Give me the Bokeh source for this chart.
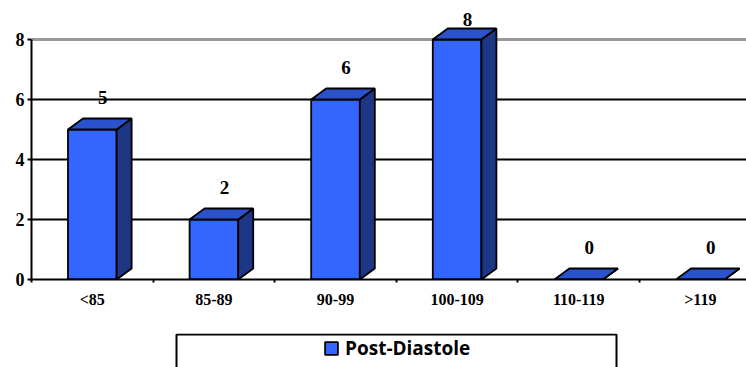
from bokeh.plotting import figure
from bokeh.models import FixedTicker, Span, Legend, LegendItem, Range1d
from bokeh.layouts import column
from bokeh.embed import file_html
from bokeh.resources import INLINE
from bokeh.core.properties import value

# ---- data ----
categories = ["<85", "85-89", "90-99", "100-109", "110-119", ">119"]
counts = [5, 2, 6, 8, 0, 0]
y_ticks = [0, 2, 4, 6, 8]
series_name = "Post-Diastole"

# ---- style ----
FRONT = "#3366FF"
TOP = "#2A52CC"
SIDE = "#1E3785"
W = 0.40            # front face width (category units)
DX = 15 / 121.6     # 3D depth, x (category units)
DY = 11 / 30        # 3D depth, y (value units)
PX_PER_UNIT = 30
FRAME_H = 279
SERIF_NAME = "Liberation Serif"

xs = [i + 0.5 for i in range(len(categories))]

p = figure(width=746, height=320, output_backend="svg", toolbar_location=None,
           x_range=Range1d(0, 715 / 121.6), y_range=Range1d(0, FRAME_H / PX_PER_UNIT),
           min_border_left=31, min_border_right=0, min_border_top=0, min_border_bottom=41)
p.outline_line_color = None
p.background_fill_color = "white"

# grid
p.xgrid.visible = False
p.ygrid.ticker = FixedTicker(ticks=[2, 4, 6])
p.ygrid.grid_line_color = "black"
p.ygrid.grid_line_width = 2
top_line = Span(location=8, dimension="width", line_color="#9a9a9a", line_width=3, level="underlay")
p.add_layout(top_line)

# bars: front faces
p.vbar(x=xs, width=W, bottom=0, top=counts, fill_color=FRONT, line_color="black", line_width=1.8)

# top and side faces
top_x, top_y, side_x, side_y = [], [], [], []
for x, v in zip(xs, counts):
    l, r = x - W / 2, x + W / 2
    top_x.append([l, r, r + DX, l + DX])
    top_y.append([v, v, v + DY, v + DY])
    side_x.append([r, r + DX, r + DX, r])
    side_y.append([0, DY, v + DY, v])
p.patches(xs=side_x, ys=side_y, fill_color=SIDE, line_color="black", line_width=1.8)
p.patches(xs=top_x, ys=top_y, fill_color=TOP, line_color="black", line_width=1.8)

# value labels (kept inside the top of the plot area)
offsets = [-min(32, FRAME_H - PX_PER_UNIT * c - 19) for c in counts]
p.text(x=[x + DX * 0.7 for x in xs], y=counts, text=[str(c) for c in counts],
       text_font=value(SERIF_NAME), text_font_style="bold", text_font_size="19px",
       text_align="center", text_baseline="alphabetic", y_offset=offsets, text_color="black")

# axes
p.xaxis.ticker = FixedTicker(ticks=xs, minor_ticks=list(range(len(categories) + 1)))
p.xaxis.major_label_overrides = {x: c for x, c in zip(xs, categories)}
p.xaxis.major_tick_out = 0
p.xaxis.major_tick_in = 0
p.xaxis.minor_tick_out = 3
p.xaxis.minor_tick_in = 0
p.xaxis.minor_tick_line_color = "black"
p.xaxis.minor_tick_line_width = 2
p.xaxis.axis_line_width = 2
p.xaxis.axis_line_color = "black"
p.xaxis.major_label_text_font = SERIF_NAME
p.xaxis.major_label_text_font_style = "bold"
p.xaxis.major_label_text_font_size = "16px"
p.xaxis.major_label_text_color = "black"
p.xaxis.major_label_standoff = 8

p.yaxis.ticker = FixedTicker(ticks=y_ticks)
p.yaxis.bounds = (0, 8)
p.yaxis.axis_line_width = 2
p.yaxis.axis_line_color = "black"
p.yaxis.major_tick_out = 4
p.yaxis.major_tick_in = 0
p.yaxis.major_tick_line_width = 2
p.yaxis.major_tick_line_color = "black"
p.yaxis.minor_tick_line_color = None
p.yaxis.major_label_text_font = SERIF_NAME
p.yaxis.major_label_text_font_style = "bold"
p.yaxis.major_label_text_font_size = "18px"
p.yaxis.major_label_text_color = "black"
p.yaxis.major_label_standoff = 3

# ---- legend area (frame aligned with main plot; data units = pixels) ----
p2 = figure(width=746, height=47, output_backend="svg", toolbar_location=None,
            x_axis_type=None, y_axis_type=None, x_range=Range1d(31, 746), y_range=Range1d(0, 34),
            min_border_left=31, min_border_right=0, min_border_top=13, min_border_bottom=0)
p2.grid.visible = False
p2.outline_line_color = None
p2.quad(left=[176], right=[616], bottom=[-10], top=[33], fill_color=None,
        line_color="black", line_width=2)
dummy = p2.rect(x=[-100], y=[-100], width=1, height=1, fill_color=FRONT,
                line_color="black", line_width=1.8)
legend = Legend(items=[LegendItem(label=series_name, renderers=[dummy])],
                location=(292, 6), padding=0, margin=0, border_line_color=None,
                background_fill_alpha=0, glyph_width=16, glyph_height=16,
                label_standoff=6, label_text_font="Open Sans",
                label_text_font_style="bold", label_text_font_size="19px",
                label_text_color="black")
p2.add_layout(legend, "center")

layout = column(p, p2, spacing=0)
open("out.html", "w").write(file_html(layout, INLINE))
